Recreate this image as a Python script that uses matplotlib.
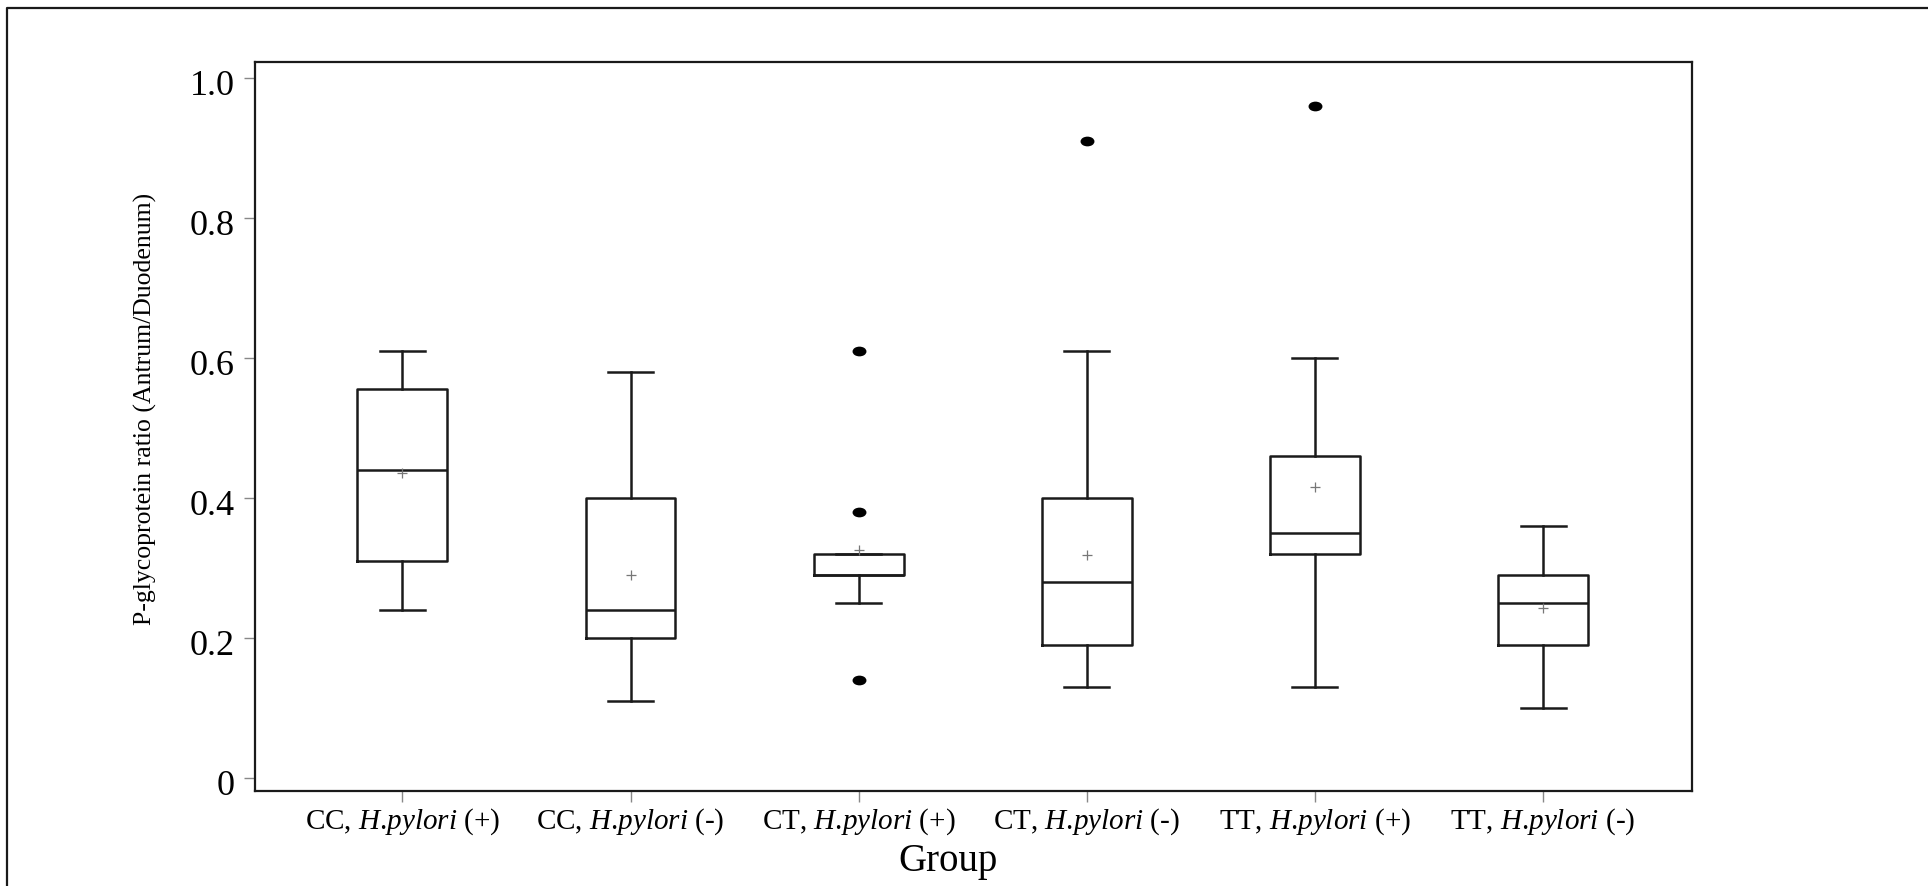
import matplotlib
matplotlib.use("Agg")
import matplotlib.pyplot as plt
from matplotlib.lines import Line2D
from matplotlib.path import Path
from matplotlib.transforms import Affine2D, ScaledTranslation

plt.rcParams['font.family'] = 'Liberation Serif'
plt.rcParams['mathtext.fontset'] = 'custom'
plt.rcParams['mathtext.rm'] = 'Liberation Serif'
plt.rcParams['mathtext.it'] = 'Liberation Serif:italic'

# summary stats per genotype / infection group
groups = [r'CC, $\mathit{H}$.$\mathit{pylori}$ (+)', r'CC, $\mathit{H}$.$\mathit{pylori}$ (-)',
          r'CT, $\mathit{H}$.$\mathit{pylori}$ (+)', r'CT, $\mathit{H}$.$\mathit{pylori}$ (-)',
          r'TT, $\mathit{H}$.$\mathit{pylori}$ (+)', r'TT, $\mathit{H}$.$\mathit{pylori}$ (-)']
whis_lo = [0.24, 0.11, 0.25, 0.13, 0.13, 0.10]
q1 = [0.31, 0.20, 0.29, 0.19, 0.32, 0.19]
median = [0.44, 0.24, 0.29, 0.28, 0.35, 0.25]
q3 = [0.555, 0.40, 0.32, 0.40, 0.46, 0.29]
whis_hi = [0.61, 0.58, 0.32, 0.61, 0.60, 0.36]
means = [0.435, 0.29, 0.325, 0.318, 0.415, 0.242]
outliers = [[], [], [0.14, 0.38, 0.61], [0.91], [0.96], []]

yticks = [0, 0.2, 0.4, 0.6, 0.8, 1.0]
ytick_labels = ['0', '0.2', '0.4', '0.6', '0.8', '1.0']

stats = []
for i in range(len(groups)):
    stats.append(dict(whislo=whis_lo[i], q1=q1[i], med=median[i], q3=q3[i],
                      whishi=whis_hi[i], mean=means[i], fliers=outliers[i]))

fig = plt.figure(figsize=(19.28, 8.86), dpi=100)
ax = fig.add_axes([0.1325, 0.1072, 0.7451, 0.8228])

# wide oval flier marker
oval = Path.unit_circle().transformed(Affine2D().scale(1.5, 1.0))

lw = 1.8
positions = list(range(1, len(groups) + 1))
ax.bxp(stats, positions=positions, widths=0.394, capwidths=0.197,
       showmeans=True, showfliers=True,
       boxprops=dict(color='#1a1a1a', linewidth=lw),
       whiskerprops=dict(color='#1a1a1a', linewidth=lw),
       capprops=dict(color='#1a1a1a', linewidth=lw),
       medianprops=dict(color='#1a1a1a', linewidth=lw),
       meanprops=dict(marker='+', markeredgecolor='#777777', markersize=7,
                      markeredgewidth=0.9),
       flierprops=dict(marker=oval, markerfacecolor='black',
                       markeredgecolor='black', markersize=9))

ax.set_xlim(0.356, 6.653)
ax.set_ylim(-0.019, 1.0224)
ax.set_yticks(yticks)
ax.set_yticklabels(ytick_labels, fontsize=26)
ax.set_xticks(positions)
ax.set_xticklabels(groups, fontsize=21)
ax.tick_params(axis='both', direction='out', length=8, width=1,
               color='#888888')
ax.tick_params(axis='y', pad=7)
ax.tick_params(axis='x', pad=3)
for sp in ax.spines.values():
    sp.set_color('#1a1a1a')
    sp.set_linewidth(1.6)

# y labels sit a little below their ticks
shift = ScaledTranslation(0, -5 / 100, fig.dpi_scale_trans)
for lab in ax.get_yticklabels():
    lab.set_transform(lab.get_transform() + shift)

fig.text(145 / 1928, 1 - 409 / 886, 'P-glycoprotein ratio (Antrum/Duodenum)',
         rotation=90, ha='center', va='center', fontsize=18.5)
fig.text(948 / 1928, 1 - 862 / 886, 'Group', ha='center', va='center',
         fontsize=28)

# outer frame (left and top edges)
x0 = 7 / 1928
y0 = 1 - 8 / 886
fig.add_artist(Line2D([x0, x0, 1.0], [0.0, y0, y0], transform=fig.transFigure,
                      color='#1a1a1a', linewidth=1.6))

fig.savefig('out.png', dpi=100, facecolor='white')
